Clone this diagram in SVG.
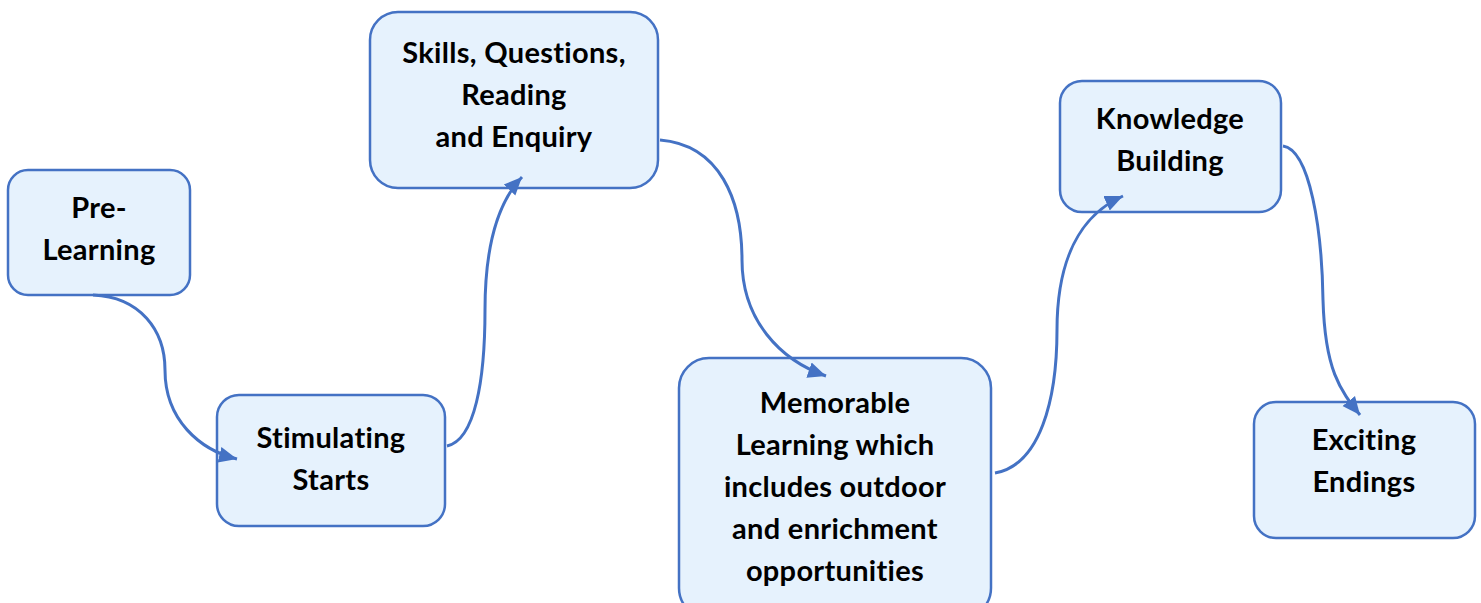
<svg xmlns="http://www.w3.org/2000/svg" width="1481" height="603" viewBox="0 0 1481 603">
<style>
.box{fill:#e6f2fd;stroke:#4472c4;stroke-width:2.5}
.t{font-family:Lato,"Open Sans","Liberation Sans",sans-serif;font-weight:700;font-size:29px;letter-spacing:0.3px;fill:#000;text-anchor:middle}
.c{fill:none;stroke:#4472c4;stroke-width:3}
</style>
<defs>
<marker id="ah" markerUnits="userSpaceOnUse" markerWidth="20" markerHeight="20" viewBox="0 0 20 20" refX="18" refY="10" orient="auto">
<path d="M0 2 L18 10 L0 18 Z" fill="#4472c4"/>
</marker>
</defs>
<rect width="1481" height="603" fill="#fff"/>
<g id="pre-learning">
<rect class="box" x="8" y="170" width="182" height="125" rx="20"/>
<text class="t" x="99" y="218">Pre-</text>
<text class="t" x="99" y="260">Learning</text>
</g>
<g id="stimulating-starts">
<rect class="box" x="217" y="395" width="228" height="131" rx="22"/>
<text class="t" x="331" y="448">Stimulating</text>
<text class="t" x="331" y="490">Starts</text>
</g>
<g id="skills">
<rect class="box" x="370" y="12" width="288" height="176" rx="28"/>
<text class="t" x="514" y="63">Skills, Questions,</text>
<text class="t" x="514" y="105">Reading</text>
<text class="t" x="514" y="147">and Enquiry</text>
</g>
<g id="memorable">
<rect class="box" x="679" y="358" width="312" height="260" rx="30"/>
<text class="t" x="835" y="413">Memorable</text>
<text class="t" x="835" y="455">Learning which</text>
<text class="t" x="835" y="497">includes outdoor</text>
<text class="t" x="835" y="539">and enrichment</text>
<text class="t" x="835" y="581">opportunities</text>
</g>
<g id="knowledge">
<rect class="box" x="1060" y="81" width="221" height="131" rx="22"/>
<text class="t" x="1170" y="129">Knowledge</text>
<text class="t" x="1170" y="171">Building</text>
</g>
<g id="exciting">
<rect class="box" x="1254" y="402" width="221" height="136" rx="22"/>
<text class="t" x="1364" y="450">Exciting</text>
<text class="t" x="1364" y="492">Endings</text>
</g>
<g id="connectors">
<path class="c" marker-end="url(#ah)" d="M93 295 C140 297 165 330 165 370 C165 420 200 450 237 459"/>
<path class="c" marker-end="url(#ah)" d="M447 446 C475 440 485 380 485 310 C485 240 500 200 522 177"/>
<path class="c" marker-end="url(#ah)" d="M660 140 C720 145 742 200 742 260 C742 320 780 360 826 376"/>
<path class="c" marker-end="url(#ah)" d="M995 473 C1040 465 1057 400 1057 330 C1057 260 1080 215 1123 196"/>
<path class="c" marker-end="url(#ah)" d="M1283 146 C1310 150 1322 230 1323 300 C1325 370 1340 390 1360 415"/>
</g>
</svg>
